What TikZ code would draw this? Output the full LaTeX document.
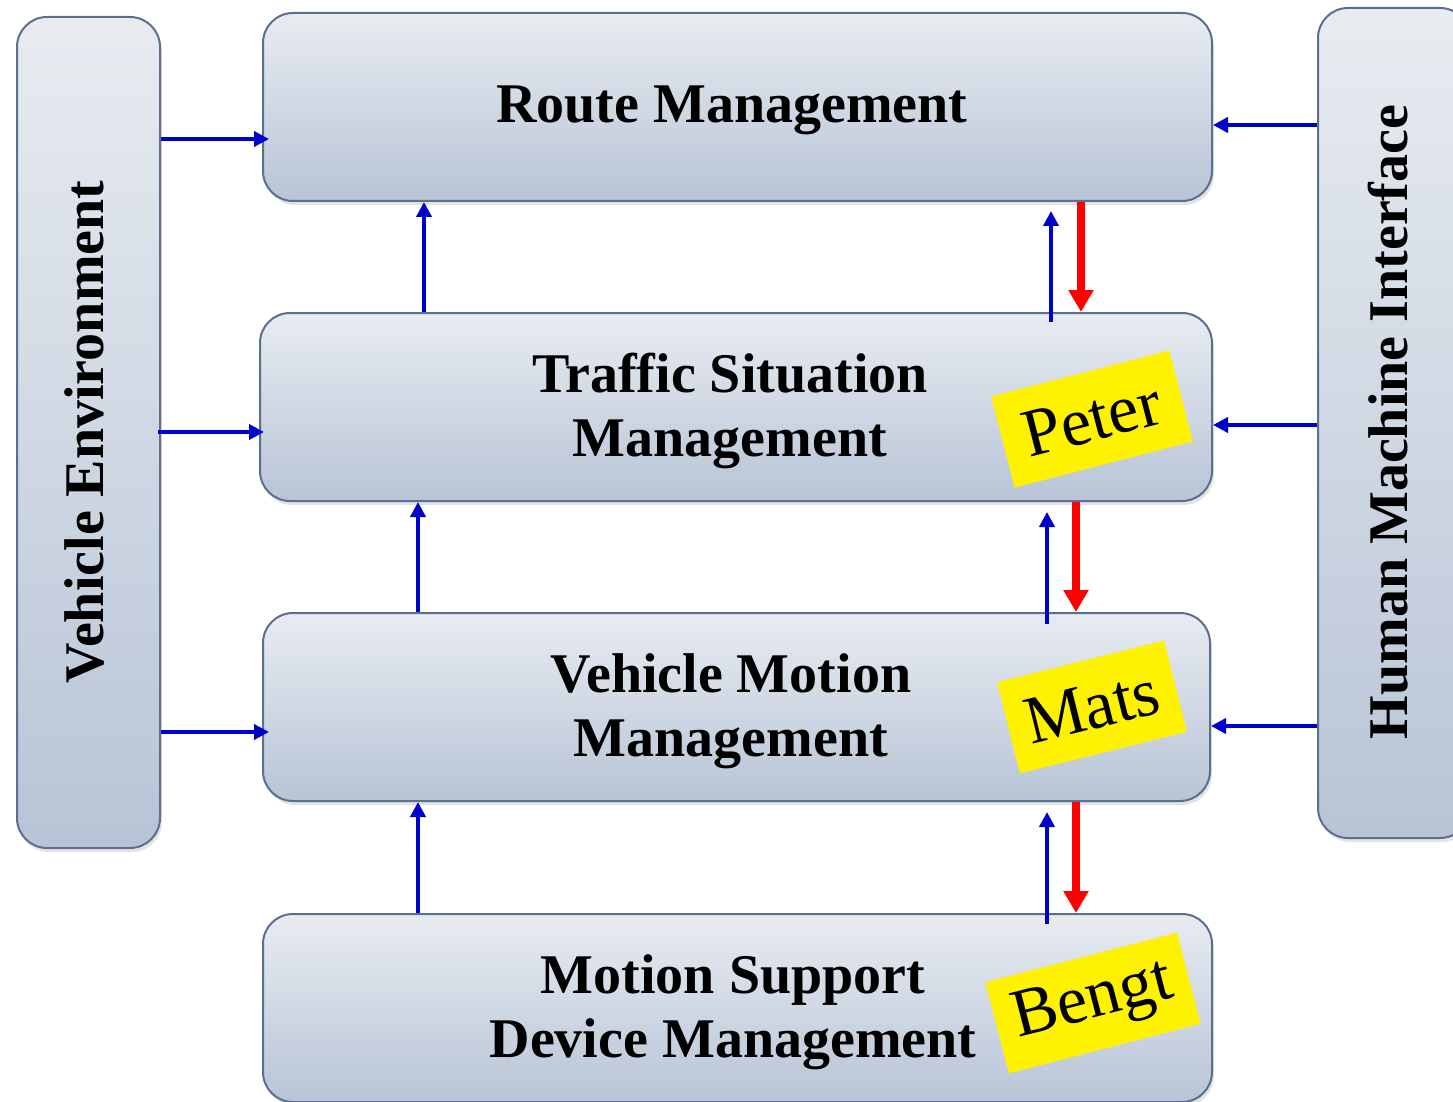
\documentclass[tikz,border=0pt]{standalone}
\usepackage{fontspec}
\setmainfont{Liberation Serif}
\usetikzlibrary{arrows.meta,shadows}
\definecolor{boxtop}{HTML}{E8ECF1}
\definecolor{boxbot}{HTML}{B8C4D6}
\definecolor{boxline}{HTML}{5B7090}
\definecolor{arrblue}{HTML}{0000CC}
\definecolor{arrred}{HTML}{FF0000}
\tikzset{
  block/.style={rounded corners=15pt, draw=boxline, line width=1pt,
    top color=boxtop, bottom color=boxbot, inner sep=0pt,
    drop shadow={opacity=0.22, shadow xshift=1pt, shadow yshift=-2pt}},
  lbl/.style={align=center, font=\fontsize{28}{32}\selectfont\bfseries, inner sep=0pt},
  tag/.style={fill=yellow, inner sep=0pt, font=\fontsize{34}{38}\selectfont,
    minimum height=47pt},
  barr/.style={draw=arrblue, line width=2pt, -{Triangle[length=7.5pt,width=7.5pt]}},
  rarr/.style={draw=arrred, line width=4pt, -{Triangle[length=11pt,width=12pt]}},
}
\begin{document}
\begin{tikzpicture}[x=0.5pt,y=-0.5pt]
\useasboundingbox (0,0) rectangle (1453,1102);
% boxes
\node[block, minimum width=71.5pt, minimum height=415.5pt] (ve) at (88.5,432.5) {};
\node[block, minimum width=76pt, minimum height=415pt] (hmi) at (1394,423) {};
\node[block, minimum width=474.5pt, minimum height=94pt] (rm) at (737.5,107) {};
\node[block, minimum width=476pt, minimum height=94pt] (ts) at (736,407) {};
\node[block, minimum width=473.5pt, minimum height=94pt] (vm) at (736.5,707) {};
\node[block, minimum width=474.5pt, minimum height=94pt] (ms) at (737.5,1008) {};
% texts
\node[lbl] (rmT) at (732,110) {Route Management};
\node[lbl] (tsT) at (730,411) {Traffic Situation\\Management};
\node[lbl] (vmT) at (731,711) {Vehicle Motion\\Management};
\node[lbl] (msT) at (733,1012) {Motion Support\\Device Management};
\node[lbl, rotate=90] (veT) at (84,432) {Vehicle Environment};
\node[lbl, rotate=90] (hmiT) at (1388,422) {Human Machine Interface};
% tags
\node[tag, rotate=14.5, minimum width=92pt] (peter) at (1092,419) {Peter};
\node[tag, rotate=14, minimum width=86pt] (mats) at (1092,707) {Mats};
\node[tag, rotate=14.5, minimum width=99pt] (bengt) at (1093,1003) {Bengt};
% left arrows
\draw[barr, shorten >=-3.5pt] (ve.east |- 0,139) -- (rm.west |- 0,139);
\draw[barr, shorten >=-2.5pt] ([xshift=-1.5pt]ve.east |- 0,432) -- (ts.west |- 0,432);
\draw[barr, shorten >=-3.5pt] (ve.east |- 0,732) -- (vm.west |- 0,732);
% right arrows
\draw[barr] (hmi.west |- 0,125) -- (rm.east |- 0,125);
\draw[barr] (hmi.west |- 0,425) -- (ts.east |- 0,425);
\draw[barr] (hmi.west |- 0,726) -- (vm.east |- 0,726);
% up arrows left
\draw[barr] (ts.north -| 424,0) -- (rm.south -| 424,0);
\draw[barr] (vm.north -| 418,0) -- (ts.south -| 418,0);
\draw[barr] (ms.north -| 418,0) -- (vm.south -| 418,0);
% up arrows right
\draw[barr, shorten <=-5pt, shorten >=4.5pt] (ts.north -| 1051,0) -- (rm.south -| 1051,0);
\draw[barr, shorten <=-6pt, shorten >=5pt] (vm.north -| 1047,0) -- (ts.south -| 1047,0);
\draw[barr, shorten <=-5.5pt, shorten >=5pt] (ms.north -| 1047,0) -- (vm.south -| 1047,0);
% red arrows
\draw[rarr] (rm.south -| 1081,0) -- (ts.north -| 1081,0);
\draw[rarr] (ts.south -| 1076,0) -- (vm.north -| 1076,0);
\draw[rarr] (vm.south -| 1076,0) -- (ms.north -| 1076,0);
\end{tikzpicture}
\end{document}
